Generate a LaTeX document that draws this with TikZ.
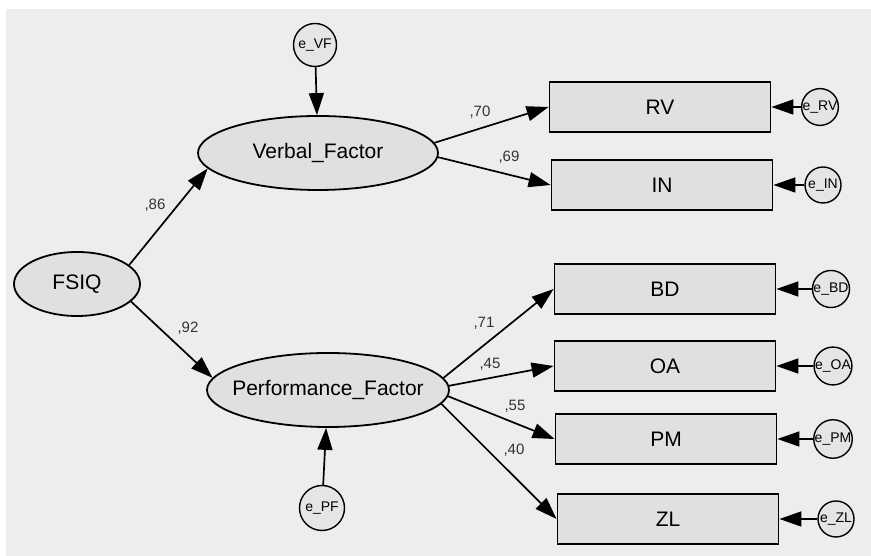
\documentclass[tikz,border=0pt]{standalone}
\usepackage{fontspec}
\setmainfont{Liberation Sans}
\usetikzlibrary{arrows.meta,positioning,shapes.geometric}
\tikzset{path/.style={-{Triangle[length=22pt,width=15pt]},line width=1.7pt}}
\tikzset{latent/.style={draw,ellipse,line width=1.8pt,fill=black!12,inner sep=0pt,font=\fontsize{21}{24}\selectfont}}
\tikzset{observed/.style={draw,rectangle,line width=1.8pt,fill=black!12,minimum width=221pt,minimum height=50pt,font=\fontsize{21}{24}\selectfont}}
\tikzset{err/.style={draw,circle,line width=1.4pt,fill=black!10,inner sep=0pt,minimum size=36pt,font=\fontsize{14}{16}\selectfont}}
\tikzset{wt/.style={font=\fontsize{15}{17}\selectfont,text=black!80}}

\begin{document}
\begin{tikzpicture}[x=1pt,y=1pt,on grid]
        \fill[white] (0,0) rectangle (871,556);
        \fill[black!7] (6,0) rectangle (871,547);
        \useasboundingbox (0,0) rectangle (871,556);
        \node(FSIQ)[latent,minimum width=126pt,minimum height=64pt] at (77,272){\makebox[0pt]{FSIQ}};
        \node(VF)[latent,minimum width=240pt,minimum height=74pt,above right=131pt and 241pt of FSIQ]{\makebox[0pt]{Verbal\_Factor}};
        \node(PF)[latent,minimum width=242pt,minimum height=74pt,below right=106pt and 251pt of FSIQ]{\makebox[0pt]{Performance\_Factor}};
        \node(eVF)[err,minimum size=43pt,above left=108pt and 3pt of VF]{e\_VF};
        \node(ePF)[err,minimum size=45pt,below left=118pt and 6pt of PF]{e\_PF};
        % indicators
        \node(RV)[observed,above right=46pt and 342pt of VF]{RV};
        \node(IN)[observed,below right=78pt and 2pt of RV]{IN};
        \node(BD)[observed,above right=101pt and 337pt of PF]{BD};
        \node(OA)[observed,below=77pt of BD]{OA};
        \node(PM)[observed,below right=73pt and 1pt of OA]{PM};
        \node(ZL)[observed,below right=80pt and 2pt of PM]{ZL};
        % errors of the indicators
        \node(eRV)[err,right=160pt of RV]{e\_RV};
        \node(eIN)[err,right=161pt of IN]{e\_IN};
        \node(eBD)[err,right=166pt of BD]{e\_BD};
        \node(eOA)[err,right=168pt of OA]{e\_OA};
        \node(ePM)[err,right=167pt of PM]{e\_PM};
        \node(eZL)[err,right=168pt of ZL]{e\_ZL};
        % weights
        \node(w86)[wt] at (155,351){,86};
        \node(w92)[wt] at (188,228){,92};
        \node(w70)[wt] at (480,444){,70};
        \node(w69)[wt] at (509,399){,69};
        \node(w71)[wt] at (484,233){,71};
        \node(w45)[wt] at (490,192){,45};
        \node(w55)[wt] at (515,150){,55};
        \node(w40)[wt] at (514,106){,40};
        \path[path]
        (FSIQ.20) edge (VF.188)
        (FSIQ.342) edge (PF.174)
        (eVF) edge (VF)
        (ePF) edge (PF)
        (VF.5) edge (RV.west)
        (VF.358) edge (IN.west)
        (PF.6) edge (BD.west)
        (PF.2) edge (OA.west)
        (PF.357) edge (PM.west)
        (PF.353) edge (ZL.west);
        \path[path]
        (eRV) edge (RV) (eIN) edge (IN)
        (eBD) edge (BD) (eOA) edge (OA)
        (ePM) edge (PM) (eZL) edge (ZL);
      \end{tikzpicture}
\end{document}
